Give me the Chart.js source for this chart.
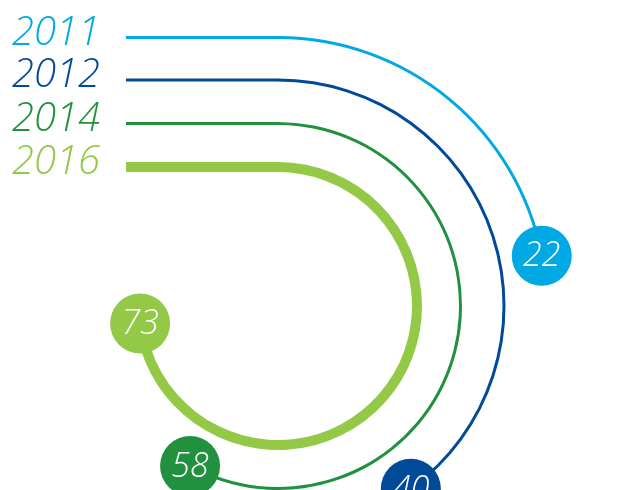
<!DOCTYPE html>
<html>
<head>
<meta charset="utf-8">
<script src="https://cdn.jsdelivr.net/npm/chart.js@4/dist/chart.umd.min.js"></script>
<style>
  html, body { margin: 0; padding: 0; background: #fff; overflow: hidden; }
  #wrap { position: relative; width: 617px; height: 490px; }
</style>
</head>
<body>
<div id="wrap"><canvas id="myChart"></canvas></div>
<script>
const years = ['2011', '2012', '2014', '2016'];
const shares = [22, 40, 58, 73];

// looks
const colors = ['#00a9e3', '#004a97', '#21913f', '#93c947'];
const thick = [3, 3, 3, 10];
const gaps = [39.5, 40.5, 37];
const labelFont = 'italic 300 40px "Open Sans", "Noto Sans", sans-serif';
const bubbleFont = 'italic 300 34px "Open Sans", "Noto Sans", sans-serif';

const datasets = [];
years.forEach((y, i) => {
    datasets.push({
        label: y,
        data: [shares[i], 100 - shares[i]],
        backgroundColor: [colors[i], 'rgba(0,0,0,0)'],
        borderWidth: 0,
        weight: thick[i]
    });
    if (i < gaps.length) {
        datasets.push({
            label: 'gap' + i,
            data: [100],
            backgroundColor: ['rgba(0,0,0,0)'],
            borderWidth: 0,
            weight: gaps[i]
        });
    }
});

const decor = {
    id: 'decor',
    beforeDatasetsDraw(chart) {
        const ctx = chart.ctx;
        ctx.save();
        chart.data.datasets.forEach((ds, di) => {
            const i = years.indexOf(ds.label);
            if (i < 0) return;
            const arc = chart.getDatasetMeta(di).data[0];
            const r = (arc.innerRadius + arc.outerRadius) / 2;
            const y = arc.y - r;
            // lead-in line
            ctx.strokeStyle = colors[i];
            ctx.lineWidth = thick[i];
            ctx.lineCap = 'butt';
            ctx.beginPath();
            ctx.moveTo(126, y);
            ctx.lineTo(arc.x + 0.5, y);
            ctx.stroke();
            // year label
            ctx.fillStyle = colors[i];
            ctx.font = labelFont;
            ctx.textAlign = 'left';
            ctx.textBaseline = 'alphabetic';
            ctx.fillText(years[i], 12, y + 7);
        });
        ctx.restore();
    },
    afterDatasetsDraw(chart) {
        const ctx = chart.ctx;
        ctx.save();
        chart.data.datasets.forEach((ds, di) => {
            const i = years.indexOf(ds.label);
            if (i < 0) return;
            const arc = chart.getDatasetMeta(di).data[0];
            const r = (arc.innerRadius + arc.outerRadius) / 2;
            const bx = arc.x + r * Math.cos(arc.endAngle);
            const by = arc.y + r * Math.sin(arc.endAngle);
            ctx.fillStyle = colors[i];
            ctx.beginPath();
            ctx.arc(bx, by, 30, 0, Math.PI * 2);
            ctx.fill();
            ctx.fillStyle = '#fff';
            ctx.font = bubbleFont;
            ctx.textAlign = 'center';
            ctx.textBaseline = 'middle';
            ctx.fillText(String(shares[i]), bx, by + 1);
        });
        ctx.restore();
    }
};

var ctx = document.getElementById('myChart').getContext('2d');

new Chart(ctx, {
    type: 'doughnut',
    data: {
        labels: ['share', 'rest'],
        datasets: datasets
    },
    options: {
        responsive: true,
        maintainAspectRatio: false,
        animation: false,
        events: [],
        rotation: 0,
        radius: 270,
        cutout: (134 / 270 * 100) + '%',
        layout: { padding: { left: 0, right: 61, top: 122, bottom: 0 } },
        plugins: {
            legend: { display: false },
            tooltip: { enabled: false }
        }
    },
    plugins: [decor]
});
</script>
</body>
</html>
